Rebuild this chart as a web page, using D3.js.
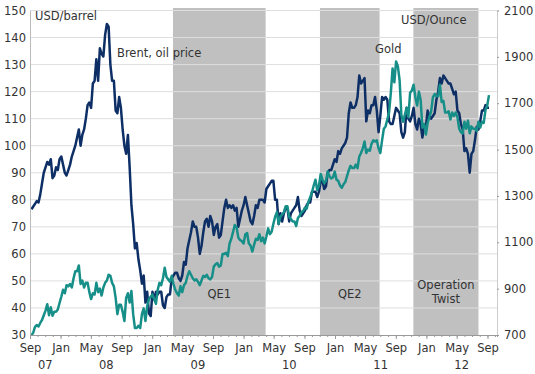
<!DOCTYPE html>
<html>
<head>
<meta charset="utf-8">
<script src="https://cdn.jsdelivr.net/npm/d3@7"></script>
<style>
  body { margin: 0; background: #fff; }
  svg text { font-family: "DejaVu Sans", Verdana, sans-serif; font-size: 11.5px; fill: #333; }
</style>
</head>
<body>
<svg width="535" height="374"></svg>
<script>
// weekly (Friday) values, Brent USD/barrel
const brent2007 = [76.5, 77.5, 78.5, 79.5, 79, 82, 86, 90, 92, 94, 93, 95, 88, 89, 92, 91, 95];
const brent2008 = [96, 93, 90, 89, 91, 93, 96, 98, 100, 103, 106, 100, 104, 106, 110, 115, 116,
  114, 123, 124, 132, 124, 136, 134, 133, 141, 145, 144, 130, 124, 124, 113, 112, 118, 114,
  106, 100, 97, 104, 92, 78, 71, 62, 64, 58, 54, 49, 52, 42, 46, 38, 37];
const brent2009 = [46, 43, 46, 45, 46, 46, 41, 40, 44, 45, 45, 51, 52, 53, 53, 51, 50,
  52, 57, 56, 62, 65, 68, 72, 70, 70, 66, 60, 63, 68, 72, 73, 70, 74, 72,
  67, 70, 71, 66, 67, 72, 77, 80, 77, 78, 77, 78, 76, 77, 70, 73, 76];
const brent2010 = [78, 81, 78, 75, 72, 71, 74, 78, 77, 80, 80, 80, 79, 84, 85, 86, 87, 87,
  80, 80, 71, 75, 72, 75, 77, 77, 72, 75, 76, 77, 78, 81, 76, 74, 75,
  76, 78, 79, 79, 83, 83, 83, 81, 83, 87, 87, 84, 85, 90, 91, 91, 93, 95];
const brent2011 = [94, 98, 97, 99, 100, 101, 103, 112, 116, 114, 114, 115, 118, 126, 123, 124, 125,
  109, 113, 112, 115, 115, 118, 113, 105, 111, 118, 117, 118, 117, 109, 108, 108, 111,
  114, 113, 112, 105, 103, 105, 114, 110, 109, 111, 114, 108, 106, 110, 108, 103, 107, 107];
const brent2012 = [113, 111, 110, 111, 112, 117, 120, 125, 123, 126, 125, 124, 123, 123, 121, 119, 120,
  113, 112, 108, 106, 98, 99, 97, 90, 97, 98, 102, 107, 106, 109, 113, 113, 115, 114, 114];

// weekly (Friday) values, gold USD/ounce
const gold2007 = [700, 710, 735, 743, 737, 752, 765, 785, 805, 833, 785, 820, 783, 800, 800, 810, 838];
const gold2008 = [865, 895, 880, 915, 910, 920, 905, 945, 975, 975, 1000, 920, 935, 905, 925, 925, 885,
  855, 880, 875, 925, 885, 900, 870, 905, 925, 935, 960, 955, 925, 910, 860, 790, 830, 830,
  800, 760, 860, 880, 840, 890, 790, 730, 730, 740, 730, 790, 815, 760, 825, 855, 865];
const gold2009 = [875, 855, 835, 895, 925, 915, 945, 990, 950, 940, 930, 955, 920, 895, 880, 870, 910,
  885, 915, 925, 955, 975, 960, 945, 935, 940, 930, 915, 935, 955, 950, 960, 945, 940, 950,
  995, 1005, 1010, 995, 1000, 1050, 1050, 1055, 1040, 1095, 1115, 1145, 1175, 1165, 1120, 1110, 1105];
const gold2010 = [1095, 1135, 1140, 1095, 1085, 1060, 1090, 1115, 1110, 1135, 1105, 1120, 1095,
  1125, 1160, 1135, 1145, 1180, 1210, 1230, 1180, 1210, 1220, 1230, 1255, 1255,
  1210, 1200, 1190, 1190, 1170, 1205, 1215, 1230, 1235, 1250, 1245, 1275, 1295,
  1315, 1345, 1370, 1325, 1345, 1395, 1370, 1355, 1365, 1405, 1385, 1375, 1380, 1405];
const gold2011 = [1370, 1365, 1345, 1335, 1350, 1360, 1385, 1410, 1430, 1420, 1420, 1435,
  1420, 1470, 1485, 1505, 1535, 1485, 1500, 1495, 1525, 1540, 1535, 1540, 1505,
  1485, 1540, 1590, 1600, 1630, 1660, 1745, 1850, 1790, 1880, 1860, 1800, 1650, 1620,
  1650, 1680, 1640, 1745, 1755, 1780, 1725, 1690, 1750, 1715, 1595, 1610, 1565];
const gold2012 = [1615, 1640, 1665, 1725, 1740, 1730, 1730, 1780, 1705, 1710, 1660, 1660, 1665,
  1630, 1660, 1645, 1660, 1640, 1590, 1575, 1570, 1620, 1590, 1625, 1570, 1600,
  1590, 1590, 1580, 1620, 1595, 1620, 1615, 1670, 1690, 1735];

const brentValues = [].concat(brent2007, brent2008, brent2009, brent2010, brent2011, brent2012);
const goldValues = [].concat(gold2007, gold2008, gold2009, gold2010, gold2011, gold2012);
const weeks = d3.timeFriday.range(new Date(2007, 8, 7), new Date(2012, 8, 8));

const leftTicks = [30, 40, 50, 60, 70, 80, 90, 100, 110, 120, 130, 140, 150];
const rightTicks = [700, 900, 1100, 1300, 1500, 1700, 1900, 2100];
const qePeriods = [
  { name: ["QE1"], start: new Date(2009, 2, 25), end: new Date(2010, 2, 30) },
  { name: ["QE2"], start: new Date(2010, 10, 2), end: new Date(2011, 5, 28) },
  { name: ["Operation", "Twist"], start: new Date(2011, 10, 10), end: new Date(2012, 6, 27) }
];
const yearLabels = ["07", "08", "09", "10", "11", "12"];

const svg = d3.select("svg");
const plotLeft = 30, plotRight = 497, plotTop = 10.5, plotBottom = 335;

const x = d3.scaleTime()
  .domain([new Date(2007, 8, 1), new Date(2012, 9, 9)])
  .range([plotLeft, plotRight]);
const yL = d3.scaleLinear().domain([30, 150]).range([plotBottom, plotTop]);
const yR = d3.scaleLinear().domain([700, 2100]).range([plotBottom, plotTop]);

// QE shading
svg.append("g").selectAll("rect")
  .data(qePeriods)
  .enter()
  .append("rect")
  .attr("x", d => x(d.start))
  .attr("width", d => x(d.end) - x(d.start))
  .attr("y", 8)
  .attr("height", plotBottom - 8)
  .attr("fill", "#c0c0c0");

// gridlines
svg.append("g").selectAll("line")
  .data(leftTicks.slice(1))
  .enter()
  .append("line")
  .attr("x1", plotLeft).attr("x2", plotRight)
  .attr("y1", d => yL(d)).attr("y2", d => yL(d))
  .attr("stroke", "#dedede")
  .attr("stroke-width", 1);

// QE labels
qePeriods.forEach(p => {
  const cx = (x(p.start) + x(p.end)) / 2;
  const t = svg.append("text")
    .attr("text-anchor", "middle")
    .attr("x", cx)
    .attr("y", p.name.length > 1 ? 289 : 298);
  p.name.forEach((s, i) => {
    t.append("tspan").attr("x", cx).attr("dy", i ? 14 : 0).text(s);
  });
});

// lines
const brentLine = d3.line().x((d, i) => x(weeks[i])).y(d => yL(d));
const goldLine = d3.line().x((d, i) => x(weeks[i])).y(d => yR(d));

svg.append("path")
  .datum(brentValues)
  .attr("d", brentLine)
  .attr("fill", "none")
  .attr("stroke", "#0d2f66")
  .attr("stroke-width", 2.5)
  .attr("stroke-linejoin", "round");

svg.append("path")
  .datum(goldValues)
  .attr("d", goldLine)
  .attr("fill", "none")
  .attr("stroke", "#178f89")
  .attr("stroke-width", 2.5)
  .attr("stroke-linejoin", "round");

// left axis
const gL = svg.append("g")
  .attr("transform", `translate(${plotLeft},0)`)
  .call(d3.axisLeft(yL).tickValues(leftTicks).tickSize(0).tickPadding(4));
gL.select(".domain").attr("stroke", "#bbb");

// right axis
const gR = svg.append("g")
  .attr("transform", `translate(${plotRight},0)`)
  .call(d3.axisRight(yR).tickValues(rightTicks).tickSize(2).tickPadding(5)
    .tickFormat(d3.format("d")));
gR.select(".domain").attr("stroke", "#ccc");
gR.selectAll(".tick line").attr("stroke", "#999");

// bottom axis: monthly minor ticks, Sep/Jan/May major ticks
const months = d3.timeMonth.range(new Date(2007, 8, 1), new Date(2012, 9, 2));
const majorMonths = months.filter(d => [0, 4, 8].includes(d.getMonth()));
const gB = svg.append("g")
  .attr("transform", `translate(0,${plotBottom})`)
  .call(d3.axisBottom(x).tickValues(months).tickSize(2).tickFormat(""));
gB.select(".domain").attr("stroke", "#999");
gB.selectAll(".tick line").attr("stroke", "#999");

const gB2 = svg.append("g")
  .attr("transform", `translate(0,${plotBottom})`)
  .call(d3.axisBottom(x).tickValues(majorMonths).tickSize(4).tickPadding(5)
    .tickFormat(d3.timeFormat("%b")));
gB2.select(".domain").remove();
gB2.selectAll(".tick line").attr("stroke", "#999");

svg.selectAll(".tick text").style("font-size", "11.5px").style("fill", "#333")
  .style("font-family", "'DejaVu Sans', Verdana, sans-serif");

// year labels centred on the visible part of each year
svg.append("g").selectAll("text")
  .data(yearLabels)
  .enter()
  .append("text")
  .attr("text-anchor", "middle")
  .attr("x", (d, i) => {
    const y0 = new Date(2007 + i, 0, 1), y1 = new Date(2008 + i, 0, 1);
    const a = Math.max(x(y0), plotLeft), b = Math.min(x(y1), plotRight);
    return (a + b) / 2;
  })
  .attr("y", 369)
  .text(d => d);

// annotations
svg.append("text").attr("x", 35).attr("y", 20).text("USD/barrel");
svg.append("text").attr("x", 117).attr("y", 57).text("Brent, oil price");
svg.append("text").attr("x", 401).attr("y", 24).text("USD/Ounce");
svg.append("text").attr("x", 375).attr("y", 53).text("Gold");
</script>
</body>
</html>
